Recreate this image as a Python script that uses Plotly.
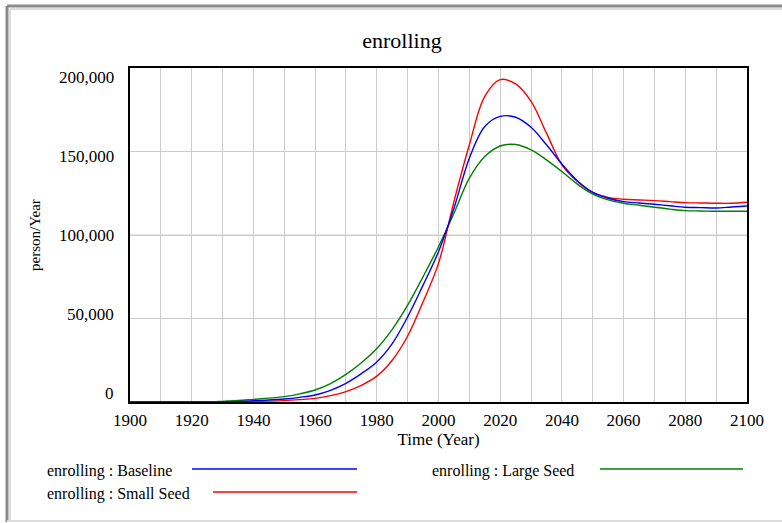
import plotly.graph_objects as go

years = list(range(1900, 2101, 5))

baseline = [0, 0, 0, 0, 0, 0, 0, 200, 800, 1200, 1800, 2800, 4200, 7000, 11200,
            17000, 24000, 35000, 51000, 70000, 90000, 116000, 146000, 165000,
            171000, 170500, 164500, 154000, 142500, 132500, 125500, 122000,
            120000, 119200, 118400, 117500, 116600, 116400, 116200, 116800, 117400]

small_seed = [0, 0, 0, 0, 0, 0, 0, 0, 300, 500, 800, 1400, 2200, 3800, 6200,
              10000, 15500, 25000, 39500, 60000, 83000, 120000, 154000, 183000,
              193000, 190500, 180000, 161000, 142000, 132000, 125500, 122500,
              121400, 121000, 120600, 120000, 119400, 119200, 119000, 119000, 119600]

large_seed = [0, 0, 0, 0, 0, 0, 400, 900, 1600, 2300, 3200, 4900, 7200, 11000, 16500,
              23500, 32000, 43500, 58000, 75000, 93000, 113000, 134000, 147000,
              153300, 154200, 151000, 145000, 138000, 130500, 124500, 121000,
              119000, 117800, 116600, 115500, 114600, 114400, 114200, 114200, 114200]

y_tick_values = [0, 50000, 100000, 150000, 200000]
y_tick_labels = ["0", "50,000", "100,000", "150,000", "200,000"]

series_names = ["enrolling : Baseline", "enrolling : Small Seed", "enrolling : Large Seed"]
colors = ["rgb(0,0,255)", "rgb(255,0,0)", "rgb(0,128,0)"]

W, H = 782, 523
L, R, T, B = 130, 747, 68, 402  # plot area in pixels

def px(x):
    return (x - L) / (R - L)

def py(y):
    return (B - y) / (B - T)

FONT = "Liberation Serif"
GRID = "#cccccc"

fig = go.Figure()
order = [2, 1, 0]
data = [baseline, small_seed, large_seed]
for i in order:
    fig.add_trace(go.Scatter(
        x=years, y=data[i], mode="lines", name=series_names[i],
        line=dict(color=colors[i], width=1.4, shape="spline", smoothing=1.0),
        showlegend=False,
    ))

fig.update_layout(
    width=W, height=H,
    margin=dict(l=L, r=W - R, t=T, b=H - B),
    paper_bgcolor="white", plot_bgcolor="white",
    font=dict(family=FONT, size=17, color="black"),
    title=dict(text="enrolling", x=px(402), xref="paper", xanchor="center",
               y=1 - 40 / H, yanchor="middle", font=dict(size=22, family=FONT)),
)

fig.update_xaxes(
    range=[1900, 2100], dtick=20, tick0=1900,
    showgrid=True, gridcolor=GRID, gridwidth=1,
    minor=dict(dtick=10, showgrid=True, gridcolor=GRID, gridwidth=1),
    showline=True, linecolor="black", linewidth=2, mirror=True,
    ticks="", zeroline=False, ticklabelstandoff=2,
    title=dict(text="Time (Year)", standoff=2, font=dict(size=17)),
    tickfont=dict(size=17),
)
fig.update_yaxes(
    range=[0, 200000], dtick=50000, showticklabels=False,
    showgrid=True, gridcolor=GRID, gridwidth=1,
    showline=True, linecolor="black", linewidth=2, mirror=True,
    ticks="", zeroline=False,
)

# horizontal grid lines at the value ticks (drawn through the y axis scale)
for v in y_tick_values[1:-1]:
    fig.add_shape(type="line", xref="paper", yref="y", x0=0, x1=1, y0=v, y1=v,
                  layer="below", line=dict(color=GRID, width=1))

# value labels: Vensim spaces them a little tighter than the grid lines
n = len(y_tick_values)
for k, (v, lab) in enumerate(zip(y_tick_values, y_tick_labels)):
    shift = 9 - 18 * k / (n - 1)
    fig.add_annotation(text=lab, xref="paper", yref="y", x=px(116), y=v,
                       xanchor="right", yanchor="middle", yshift=shift,
                       showarrow=False, font=dict(size=17, family=FONT, color="black"))

# y axis title
fig.add_annotation(text="person/Year", xref="paper", yref="paper", x=px(35), y=0.5,
                   xanchor="center", yanchor="middle", textangle=-90, showarrow=False,
                   font=dict(size=15, family=FONT, color="black"))

# window frame
fig.add_shape(type="line", xref="paper", yref="paper", x0=px(7), x1=px(800),
              y0=py(6), y1=py(6), line=dict(color="#8a8a8a", width=3))
fig.add_shape(type="line", xref="paper", yref="paper", x0=px(7), x1=px(7),
              y0=py(6), y1=py(522), line=dict(color="#8a8a8a", width=3))
fig.add_shape(type="line", xref="paper", yref="paper", x0=px(10), x1=px(800),
              y0=py(9), y1=py(9), line=dict(color="#dddddd", width=2))
fig.add_shape(type="line", xref="paper", yref="paper", x0=px(10), x1=px(10),
              y0=py(9), y1=py(522), line=dict(color="#dddddd", width=2))
fig.add_shape(type="line", xref="paper", yref="paper", x0=px(7), x1=px(800),
              y0=py(521), y1=py(521), line=dict(color="#dddddd", width=2))

# custom legend (text then line sample)
legend_items = [
    (series_names[0], colors[0], 45, 192, 357, 471),
    (series_names[2], colors[2], 430, 600, 743, 471),
    (series_names[1], colors[1], 45, 213, 357, 494),
]
for name, col, tx, lx0, lx1, yy in legend_items:
    fig.add_annotation(text=name, xref="paper", yref="paper", x=px(tx), y=py(yy),
                       xanchor="left", yanchor="middle", showarrow=False,
                       font=dict(size=16, family=FONT, color="black"))
    fig.add_shape(type="line", xref="paper", yref="paper", x0=px(lx0), x1=px(lx1),
                  y0=py(yy - 2), y1=py(yy - 2), line=dict(color=col, width=1.4))

fig.write_html("out.html")
